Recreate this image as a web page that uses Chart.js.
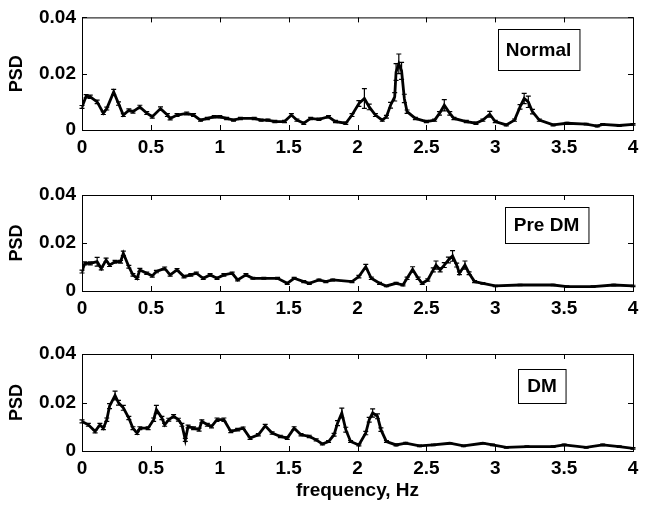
<!DOCTYPE html>
<html lang="en">
<head>
  <meta charset="UTF-8">
  <title>PSD panels</title>
  <script src="https://cdn.jsdelivr.net/npm/chart.js"></script>
  <style>
    body { margin: 0; background: #fff; }
    #wrap { position: relative; width: 649px; height: 513px; }
    canvas { position: absolute; left: 0; }
  </style>
</head>
<body>
<div id="wrap">
  <canvas id="normalChart" width="649" height="155" style="top:0px"></canvas>
  <canvas id="preChart" width="649" height="160" style="top:155px"></canvas>
  <canvas id="dmChart" width="649" height="198" style="top:315px"></canvas>
</div>

<script>
// frequency (Hz) / PSD / error bar half-height
const normalFreq = [0, 0.03, 0.06, 0.11, 0.155, 0.18, 0.23, 0.265, 0.30, 0.34, 0.37, 0.42, 0.47, 0.51, 0.57, 0.62, 0.64, 0.69, 0.76, 0.81,
  0.86, 0.91, 0.96, 1.00, 1.05, 1.10, 1.15, 1.25, 1.30, 1.35, 1.40, 1.47, 1.52, 1.56, 1.61, 1.66, 1.72, 1.79, 1.84, 1.915,
  1.96, 2.01, 2.05, 2.085, 2.13, 2.18, 2.21, 2.24, 2.27, 2.28, 2.30, 2.32, 2.34, 2.36, 2.42, 2.50, 2.56, 2.595, 2.63, 2.67,
  2.70, 2.79, 2.86, 2.91, 2.96, 3.00, 3.08, 3.14, 3.18, 3.21, 3.24, 3.27, 3.32, 3.42, 3.52, 3.66, 3.74, 3.78, 3.90, 4.0];
const normalPsd = [0.0082, 0.012, 0.0118, 0.010, 0.006, 0.0076, 0.0135, 0.0094, 0.0053, 0.007, 0.0065, 0.0082, 0.006, 0.0047, 0.0076, 0.0053, 0.0041, 0.0053, 0.0059, 0.0053,
  0.0035, 0.0041, 0.0047, 0.0047, 0.0041, 0.0035, 0.0041, 0.0041, 0.0035, 0.0035, 0.003, 0.003, 0.0053, 0.0035, 0.0024, 0.0041, 0.0038, 0.0047, 0.003, 0.0024,
  0.0053, 0.0094, 0.0112, 0.0082, 0.0053, 0.0035, 0.0047, 0.0088, 0.0118, 0.0206, 0.0235, 0.021, 0.0112, 0.0065, 0.0041, 0.003, 0.0035, 0.0059, 0.0088, 0.0059,
  0.0041, 0.003, 0.0024, 0.0035, 0.0056, 0.003, 0.0018, 0.0035, 0.0082, 0.0112, 0.010, 0.0065, 0.0035, 0.0018, 0.0024, 0.0021, 0.0014, 0.002, 0.0016, 0.002];
const normalErr = [0.0005, 0.0006, 0.0006, 0.0006, 0.0005, 0.0005, 0.0009, 0.0006, 0.0005, 0.0005, 0.0005, 0.0006, 0.0005, 0.0005, 0.0006, 0.0005, 0.0005, 0.0005, 0.0005, 0.0005,
  0.0004, 0.0004, 0.0004, 0.0004, 0.0004, 0.0004, 0.0004, 0.0004, 0.0004, 0.0004, 0.0004, 0.0004, 0.0005, 0.0004, 0.0004, 0.0004, 0.0004, 0.0004, 0.0004, 0.0004,
  0.0005, 0.001, 0.0035, 0.001, 0.0005, 0.0004, 0.0005, 0.001, 0.0015, 0.003, 0.0035, 0.003, 0.0015, 0.0006, 0.0004, 0.0004, 0.0004, 0.0006, 0.002, 0.0006,
  0.0004, 0.0004, 0.0004, 0.0004, 0.001, 0.0004, 0.0003, 0.0004, 0.0008, 0.0018, 0.002, 0.0008, 0.0004, 0.0003, 0.0003, 0.0003, 0.0003, 0.0003, 0.0003, 0.0003];

const preFreq = [0, 0.02, 0.06, 0.11, 0.14, 0.175, 0.20, 0.24, 0.28, 0.30, 0.34, 0.37, 0.40, 0.42, 0.47, 0.51, 0.54, 0.60, 0.64, 0.69,
  0.74, 0.79, 0.83, 0.88, 0.93, 0.98, 1.03, 1.09, 1.13, 1.19, 1.24, 1.32, 1.42, 1.49, 1.54, 1.61, 1.65, 1.72, 1.77, 1.82,
  1.96, 2.01, 2.06, 2.10, 2.16, 2.21, 2.28, 2.33, 2.36, 2.40, 2.44, 2.47, 2.51, 2.55, 2.57, 2.60, 2.63, 2.66, 2.69, 2.72,
  2.74, 2.78, 2.81, 2.85, 2.91, 3.00, 3.18, 3.42, 3.52, 3.71, 3.86, 4.0];
const prePsd = [0.0081, 0.0115, 0.0115, 0.0122, 0.0094, 0.0129, 0.0108, 0.0122, 0.0122, 0.0157, 0.0101, 0.0067, 0.0053, 0.0088, 0.0074, 0.0063, 0.0081, 0.0094, 0.0067, 0.0088,
  0.006, 0.0067, 0.0074, 0.0053, 0.0067, 0.0053, 0.0067, 0.0074, 0.0046, 0.0067, 0.0053, 0.0053, 0.0053, 0.0032, 0.0053, 0.0039, 0.0032, 0.0046, 0.0039, 0.0046,
  0.0039, 0.006, 0.0101, 0.0053, 0.0032, 0.0021, 0.0032, 0.0025, 0.0053, 0.009, 0.0053, 0.0032, 0.0046, 0.0088, 0.0108, 0.0088, 0.0108, 0.0129, 0.0146, 0.0108,
  0.0074, 0.0108, 0.0074, 0.0039, 0.0032, 0.0021, 0.0025, 0.0025, 0.0018, 0.0018, 0.0025, 0.0021];
const preErr = [0.0006, 0.0006, 0.0006, 0.0018, 0.0006, 0.0008, 0.0006, 0.0006, 0.0006, 0.0009, 0.0006, 0.0005, 0.0005, 0.0006, 0.0005, 0.0005, 0.0005, 0.0006, 0.0005, 0.0005,
  0.0005, 0.0005, 0.0005, 0.0005, 0.0005, 0.0005, 0.0005, 0.0005, 0.0004, 0.0005, 0.0004, 0.0004, 0.0004, 0.0004, 0.0004, 0.0004, 0.0004, 0.0004, 0.0004, 0.0004,
  0.0004, 0.0005, 0.001, 0.0005, 0.0004, 0.0003, 0.0004, 0.0004, 0.0005, 0.0011, 0.0005, 0.0004, 0.0005, 0.0008, 0.0017, 0.0008, 0.001, 0.0012, 0.0022, 0.0008,
  0.0006, 0.0017, 0.0006, 0.0004, 0.0003, 0.0003, 0.0003, 0.0003, 0.0003, 0.0003, 0.0003, 0.0003];

const dmFreq = [0, 0.046, 0.095, 0.13, 0.155, 0.18, 0.20, 0.24, 0.265, 0.30, 0.34, 0.37, 0.40, 0.42, 0.48, 0.52, 0.54, 0.58, 0.60, 0.63,
  0.665, 0.70, 0.725, 0.75, 0.77, 0.81, 0.85, 0.87, 0.91, 0.94, 0.98, 1.03, 1.08, 1.13, 1.17, 1.22, 1.28, 1.33, 1.38, 1.44,
  1.49, 1.54, 1.59, 1.65, 1.70, 1.745, 1.79, 1.83, 1.855, 1.886, 1.915, 1.95, 2.01, 2.06, 2.085, 2.11, 2.145, 2.17, 2.21, 2.28,
  2.35, 2.45, 2.55, 2.67, 2.77, 2.91, 2.98, 3.08, 3.23, 3.42, 3.50, 3.66, 3.78, 3.90, 4.0];
const dmPsd = [0.0122, 0.0108, 0.0081, 0.0108, 0.0094, 0.0129, 0.0185, 0.0229, 0.0199, 0.0178, 0.0136, 0.0094, 0.0074, 0.0094, 0.0094, 0.0129, 0.0171, 0.0136, 0.0108, 0.0129,
  0.0143, 0.0129, 0.0108, 0.0046, 0.0101, 0.0094, 0.0088, 0.0122, 0.0108, 0.0101, 0.0129, 0.0129, 0.0081, 0.0088, 0.0094, 0.0053, 0.0067, 0.0104, 0.0074, 0.006,
  0.0053, 0.0094, 0.0067, 0.006, 0.0046, 0.0029, 0.0039, 0.0067, 0.0115, 0.0157, 0.0088, 0.0039, 0.0025, 0.0074, 0.0129, 0.0157, 0.0143, 0.0088, 0.0039, 0.0025,
  0.0032, 0.0021, 0.0025, 0.0032, 0.0021, 0.0032, 0.0025, 0.0015, 0.0018, 0.0018, 0.0025, 0.0015, 0.0025, 0.0018, 0.0011];
const dmErr = [0.0006, 0.0006, 0.0006, 0.0006, 0.0006, 0.0007, 0.001, 0.0018, 0.001, 0.001, 0.0007, 0.0006, 0.0006, 0.0006, 0.0006, 0.0007, 0.0017, 0.0007, 0.0006, 0.0006,
  0.0007, 0.0006, 0.0006, 0.0006, 0.0006, 0.0006, 0.0006, 0.0006, 0.0006, 0.0006, 0.0007, 0.0007, 0.0005, 0.0005, 0.0005, 0.0005, 0.0005, 0.0006, 0.0005, 0.0005,
  0.0005, 0.0006, 0.0005, 0.0005, 0.0004, 0.0004, 0.0004, 0.0006, 0.001, 0.002, 0.001, 0.0004, 0.0004, 0.0007, 0.001, 0.0017, 0.001, 0.0007, 0.0004, 0.0004,
  0.0004, 0.0003, 0.0003, 0.0003, 0.0003, 0.0003, 0.0003, 0.0003, 0.0003, 0.0003, 0.0003, 0.0003, 0.0003, 0.0003, 0.0003];

const xTicks = [0, 0.5, 1, 1.5, 2, 2.5, 3, 3.5, 4];
const yTicks = [0, 0.02, 0.04];

const FONT = "'Liberation Sans', Arial, Helvetica, sans-serif";

// matlab style box with inward ticks on all four sides
const boxPlugin = {
  id: 'matlabBox',
  afterDraw(chart) {
    const {ctx, chartArea: a, scales: {x, y}} = chart;
    ctx.save();
    ctx.strokeStyle = '#000';
    ctx.lineWidth = 1;
    ctx.strokeRect(a.left + 0.5, a.top + 0.5, a.right - a.left, a.bottom - a.top);
    ctx.beginPath();
    xTicks.forEach(t => {
      const px = Math.round(x.getPixelForValue(t)) + 0.5;
      ctx.moveTo(px, a.bottom); ctx.lineTo(px, a.bottom - 5);
      ctx.moveTo(px, a.top); ctx.lineTo(px, a.top + 5);
    });
    yTicks.forEach(t => {
      const py = Math.round(y.getPixelForValue(t)) + 0.5;
      ctx.moveTo(a.left, py); ctx.lineTo(a.left + 5, py);
      ctx.moveTo(a.right, py); ctx.lineTo(a.right - 5, py);
    });
    ctx.stroke();
    ctx.restore();
  }
};

// error bars with little caps
const errPlugin = {
  id: 'errBars',
  afterDatasetsDraw(chart) {
    const {ctx, scales: {x, y}} = chart;
    const ds = chart.data.datasets[0];
    const errs = ds.errors;
    ctx.save();
    ctx.strokeStyle = '#000';
    ctx.lineWidth = 1.2;
    ctx.beginPath();
    ds.data.forEach((p, i) => {
      const px = x.getPixelForValue(p.x);
      const y1 = y.getPixelForValue(p.y + errs[i]);
      const y2 = y.getPixelForValue(p.y - errs[i]);
      ctx.moveTo(px, y1); ctx.lineTo(px, y2);
      ctx.moveTo(px - 2.5, y1); ctx.lineTo(px + 2.5, y1);
      ctx.moveTo(px - 2.5, y2); ctx.lineTo(px + 2.5, y2);
    });
    ctx.stroke();
    ctx.restore();
  }
};

// boxed group label, positioned in data coordinates
const labelPlugin = {
  id: 'groupLabel',
  afterDraw(chart, args, opts) {
    if (!opts.text) return;
    const {ctx, scales: {x, y}} = chart;
    const cx = x.getPixelForValue(opts.x);
    const cy = y.getPixelForValue(opts.y);
    ctx.save();
    ctx.font = 'bold 19px ' + FONT;
    const w = ctx.measureText(opts.text).width + opts.padX * 2;
    const h = opts.h;
    const left = Math.round(cx - w / 2) + 0.5;
    const top = Math.round(cy - h / 2) + 0.5;
    ctx.fillStyle = '#fff';
    ctx.fillRect(left, top, w, h);
    ctx.strokeStyle = '#000';
    ctx.lineWidth = 1;
    ctx.strokeRect(left, top, w, h);
    ctx.fillStyle = '#000';
    ctx.textAlign = 'center';
    ctx.textBaseline = 'middle';
    ctx.fillText(opts.text, cx, cy + 1);
    ctx.restore();
  }
};

function makeChart(id, freq, psd, err, label, padTop, xAxisH, showTitle) {
  const points = freq.map((f, i) => ({x: f, y: psd[i]}));
  return new Chart(document.getElementById(id), {
    type: 'line',
    data: {
      datasets: [{
        data: points,
        errors: err,
        borderColor: '#000',
        borderWidth: 2.8,
        pointRadius: 0,
        tension: 0,
        fill: false
      }]
    },
    options: {
      responsive: false,
      animation: false,
      devicePixelRatio: 1,
      layout: { padding: { top: padTop, right: 16, left: 0, bottom: 0 } },
      plugins: {
        legend: { display: false },
        tooltip: { enabled: false },
        groupLabel: label
      },
      scales: {
        x: {
          type: 'linear',
          min: 0, max: 4,
          afterBuildTicks: s => { s.ticks = xTicks.map(v => ({value: v})); },
          afterFit: s => { s.height = xAxisH; },
          grid: { display: false, drawTicks: false },
          border: { display: false },
          ticks: {
            color: '#000', padding: 6, maxRotation: 0,
            font: { family: FONT, size: 19, weight: 'bold' },
            callback: v => String(v)
          },
          title: {
            display: showTitle,
            text: 'frequency, Hz',
            color: '#000',
            padding: { top: 0, bottom: 11 },
            font: { family: FONT, size: 19, weight: 'bold' }
          }
        },
        y: {
          min: 0, max: 0.04,
          afterBuildTicks: s => { s.ticks = yTicks.map(v => ({value: v})); },
          afterFit: s => { s.width = 82; },
          grid: { display: false, drawTicks: false },
          border: { display: false },
          ticks: {
            color: '#000', padding: 6,
            font: { family: FONT, size: 19, weight: 'bold' },
            callback: v => String(v)
          },
          title: {
            display: true,
            text: 'PSD',
            color: '#000',
            padding: { top: 6, bottom: 0 },
            font: { family: FONT, size: 18, weight: 'bold' }
          }
        }
      }
    },
    plugins: [errPlugin, boxPlugin, labelPlugin]
  });
}

makeChart('normalChart', normalFreq, normalPsd, normalErr,
  { text: 'Normal', x: 3.314, y: 0.0285, padX: 8, h: 41 }, 17, 25, false);
makeChart('preChart', preFreq, prePsd, preErr,
  { text: 'Pre DM', x: 3.372, y: 0.0275, padX: 9, h: 36 }, 40, 24, false);
makeChart('dmChart', dmFreq, dmPsd, dmErr,
  { text: 'DM', x: 3.34, y: 0.0268, padX: 9, h: 34 }, 39, 62, true);
</script>
</body>
</html>
